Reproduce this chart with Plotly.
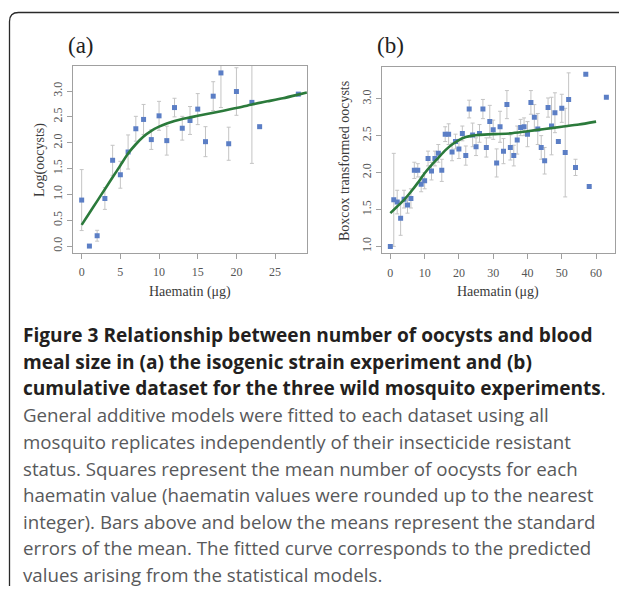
import plotly.graph_objects as go

# The page body has an 8px default margin, so the figure is drawn 8px in
# from the window's top-left corner; the figure is sized to fill the rest.
OFF = 8
W, H = 627 - OFF, 590 - OFF

# ---------------- data ----------------
# Panel (a): isogenic strain experiment
a_haem = [0, 1, 2, 3, 4, 5, 6, 7, 8, 9, 10, 11, 12, 13, 14, 15, 16, 17, 18, 19, 20, 22, 23, 28]
a_mean = [0.89, 0.00, 0.20, 0.92, 1.66, 1.38, 1.82, 2.27, 2.45, 2.06, 2.52, 2.04, 2.68, 2.28,
          2.43, 2.65, 2.02, 2.90, 3.35, 1.98, 2.99, 2.78, 2.31, 2.94]
a_se = [0.59, 0.0, 0.105, 0.21, 0.29, 0.26, 0.33, 0.24, 0.29, 0.19, 0.28, 0.28, 0.18, 0.23,
        0.27, 0.30, 0.29, 0.28, 0.67, 0.32, 0.46, 1.18, 0.0, 0.0]
a_fit_x = [0, 1, 2, 3, 4, 5, 6, 7, 8, 9, 10, 11, 12, 13, 14, 15, 16, 18, 20, 22, 24, 26, 28, 29.1]
a_fit_y = [0.41, 0.64, 0.87, 1.10, 1.33, 1.56, 1.79, 1.97, 2.12, 2.23, 2.31, 2.37, 2.42, 2.46,
           2.49, 2.52, 2.55, 2.61, 2.67, 2.74, 2.80, 2.86, 2.93, 2.97]

# Panel (b): cumulative dataset, three wild mosquito experiments
b_haem = [0, 1, 2, 3, 4, 5, 6, 7, 8, 9, 10, 11, 12, 13, 14, 15, 16, 17, 18, 19, 20, 21, 22, 23,
          24, 25, 26, 27, 28, 29, 30, 31, 32, 33, 34, 35, 36, 37, 38, 39, 40, 41, 42, 43, 44, 45,
          46, 47, 48, 49, 50, 51, 52, 54, 57, 58, 63]
b_mean = [1.00, 1.63, 1.60, 1.38, 1.64, 1.56, 1.65, 2.03, 2.03, 1.84, 1.89, 2.19, 2.02, 2.19,
          2.26, 2.03, 2.52, 2.52, 2.28, 2.42, 2.32, 2.53, 2.23, 2.86, 2.51, 2.35, 2.53, 2.86,
          2.34, 2.69, 2.58, 2.13, 2.62, 2.29, 2.92, 2.34, 2.23, 2.44, 2.61, 2.62, 2.52, 2.95,
          2.75, 2.59, 2.34, 2.16, 2.88, 2.63, 2.81, 2.42, 2.87, 2.27, 2.99, 2.07, 3.33, 1.81, 3.02]
b_se = [0.0, 0.63, 0.16, 0.23, 0.12, 0.11, 0.13, 0.11, 0.09, 0.10, 0.11, 0.10, 0.12, 0.10,
        0.12, 0.15, 0.10, 0.14, 0.12, 0.10, 0.13, 0.10, 0.13, 0.12, 0.16, 0.12, 0.12, 0.13,
        0.13, 0.22, 0.13, 0.19, 0.21, 0.17, 0.19, 0.17, 0.14, 0.19, 0.11, 0.12, 0.17, 0.16,
        0.17, 0.21, 0.16, 0.18, 0.13, 0.39, 0.27, 0.0, 0.19, 0.60, 0.36, 0.11, 0.0, 0.0, 0.0]
b_fit_x = [0, 2, 4, 6, 8, 10, 12, 14, 16, 18, 20, 22, 24, 26, 30, 35, 40, 45, 50, 55, 60]
b_fit_y = [1.45, 1.54, 1.63, 1.74, 1.86, 1.99, 2.10, 2.20, 2.30, 2.38, 2.44, 2.48, 2.50, 2.51,
           2.52, 2.53, 2.56, 2.59, 2.62, 2.65, 2.69]

a_xticks = [0, 5, 10, 15, 20, 25]
a_yticks = [0.0, 0.5, 1.0, 1.5, 2.0, 2.5, 3.0]
b_xticks = [0, 10, 20, 30, 40, 50, 60]
b_yticks = [1.0, 1.5, 2.0, 2.5, 3.0]

caption_lines = [
    "<b>Figure 3 Relationship between number of oocysts and blood</b>",
    "<b>meal size in (a) the isogenic strain experiment and (b)</b>",
    "<b>cumulative dataset for the three wild mosquito experiments</b>.",
    "General additive models were fitted to each dataset using all",
    "mosquito replicates independently of their insecticide resistant",
    "status. Squares represent the mean number of oocysts for each",
    "haematin value (haematin values were rounded up to the nearest",
    "integer). Bars above and below the means represent the standard",
    "errors of the mean. The fitted curve corresponds to the predicted",
    "values arising from the statistical models.",
]

# ---------------- styling ----------------
MARK = "#5b7ec5"
FIT = "#2b7a3b"
ERR = "#c4c4c4"
BOX = "#a0a0a0"
SERIF = "Liberation Serif"


def px(x):
    return (x - OFF) / W


def py(y):
    return 1 - (y - OFF) / H


def r_range(lo, hi):
    d = (hi - lo) * 0.04
    return [lo - d, hi + d]


fig = go.Figure()

for xs, ys, se, fx, fy, xa, ya in [
    (a_haem, a_mean, a_se, a_fit_x, a_fit_y, "x", "y"),
    (b_haem, b_mean, b_se, b_fit_x, b_fit_y, "x2", "y2"),
]:
    fig.add_trace(go.Scatter(
        x=xs, y=ys, mode="markers", xaxis=xa, yaxis=ya,
        marker=dict(symbol="square", size=5, color=MARK),
        error_y=dict(type="data", array=se, visible=True, color=ERR, thickness=1, width=2),
        showlegend=False, hoverinfo="skip"))
    fig.add_trace(go.Scatter(
        x=fx, y=fy, mode="lines", xaxis=xa, yaxis=ya,
        line=dict(color=FIT, width=2.6, shape="spline", smoothing=0.6),
        showlegend=False, hoverinfo="skip"))

axis_common = dict(
    showgrid=False, zeroline=False, showline=True, mirror=True, linecolor=BOX, linewidth=1,
    ticks="outside", ticklen=5, tickcolor=BOX, tickwidth=1,
    tickfont=dict(family=SERIF, size=12, color="#555555"),
)

fig.update_layout(
    width=W, height=H,
    margin=dict(l=0, r=0, t=0, b=0),
    paper_bgcolor="white", plot_bgcolor="white",
    xaxis=dict(domain=[px(73), px(307)], range=r_range(0, 28), tickvals=a_xticks,
               anchor="y", ticklabelstandoff=3, **axis_common),
    yaxis=dict(domain=[py(253), py(66)], range=r_range(0, 3.35), tickvals=a_yticks,
               tickformat=".1f", tickangle=-90, anchor="x", **axis_common),
    xaxis2=dict(domain=[px(381.7), px(615)], range=r_range(0, 63), tickvals=b_xticks,
                anchor="y2", ticklabelstandoff=3, **axis_common),
    yaxis2=dict(domain=[py(253.3), py(66.7)], range=r_range(1.0, 3.34), tickvals=b_yticks,
                tickformat=".1f", tickangle=-90, anchor="x2", **axis_common),
)

ann = []
# panel letters
ann.append(dict(text="(a)", x=px(81), y=py(45), xref="paper", yref="paper", showarrow=False,
                font=dict(family=SERIF, size=23, color="#222222"), xanchor="center", yanchor="middle"))
ann.append(dict(text="(b)", x=px(390), y=py(45), xref="paper", yref="paper", showarrow=False,
                font=dict(family=SERIF, size=23, color="#222222"), xanchor="center", yanchor="middle"))
# axis titles
for t, x, y, ang in [("Log(oocysts)", 40, 160, -90), ("Boxcox transformed oocysts", 345, 161, -90),
                     ("Haematin (μg)", 190, 292, 0), ("Haematin (μg)", 498, 292, 0)]:
    ann.append(dict(text=t, x=px(x), y=py(y), xref="paper", yref="paper", showarrow=False,
                    textangle=ang, font=dict(family=SERIF, size=14, color="#3a3a3a"),
                    xanchor="center", yanchor="middle"))
# caption
y0 = 335
for i, line in enumerate(caption_lines):
    bold = i < 3
    ann.append(dict(text=line, x=px(21), y=py(y0 + i * 26.6), xref="paper", yref="paper",
                    showarrow=False, xanchor="left", yanchor="middle",
                    font=dict(family="Open Sans", size=19.1 if bold else 18.7,
                              color="#231f20" if bold else "#58595b")))
fig.update_layout(annotations=ann)

# frame (top and left border with rounded corner)
L, T, R_, B, r = 9.5, 12.5, 624, 586, 9
path = (f"M {px(L)},{py(B)} L {px(L)},{py(T + r)} Q {px(L)},{py(T)} {px(L + r)},{py(T)} "
        f"L {px(R_)},{py(T)}")
fig.add_shape(type="path", path=path, xref="paper", yref="paper",
              line=dict(color="#2a2a2a", width=1.3))

fig.write_html("out.html")
